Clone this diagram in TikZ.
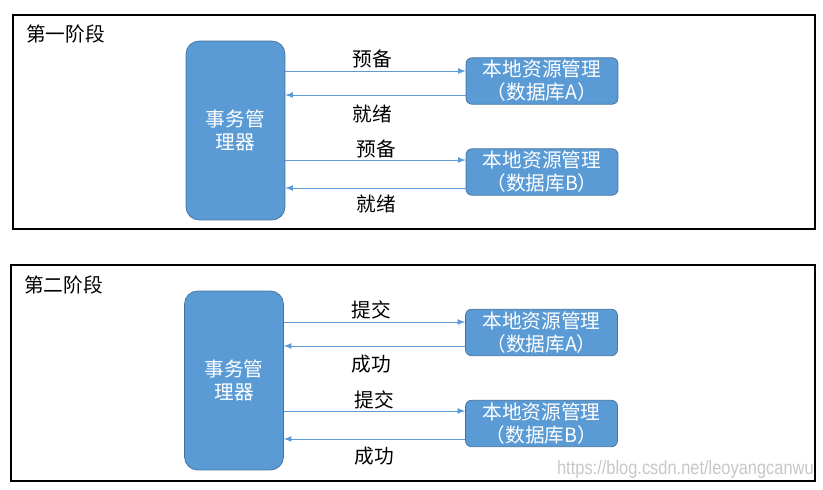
\documentclass[tikz,border=0pt]{standalone}
\usepackage{fontspec}
\setmainfont{Noto Sans CJK SC}
\newfontfamily\markfont{Liberation Sans}
\usetikzlibrary{arrows}
\definecolor{boxblue}{HTML}{5B9BD5}
\definecolor{boxedge}{HTML}{41719C}
\definecolor{msgblue}{HTML}{5B9BD5}

\begin{document}
\begin{tikzpicture}[x=0.02cm, y=-0.02cm,
  font=\fontsize{11.2}{13}\selectfont,
  panel/.style={draw=black, line width=0.6pt},
  tm/.style={draw=boxedge, fill=boxblue, rounded corners=0.26cm, minimum width=1.98cm,
    minimum height=3.58cm, text=white, align=center, inner sep=0pt},
  res/.style={draw=boxedge, fill=boxblue, rounded corners=0.12cm, minimum width=3.04cm,
    minimum height=0.93cm, text=white, align=center, inner sep=0pt},
  msg/.style={draw=msgblue, line width=0.5pt, ->, >=latex}]
\useasboundingbox (0,0) rectangle (823,490);

% phase one
\draw[panel] (13,15) rectangle (815,229);
\node[anchor=west] (t1) at (20,34) {第一阶段};
\node[tm] (tm1) at (235.5,130.5) {事务管\\理器};
\node[res] (ra1) at (542,81) {本地资源管理\\（数据库A）};
\node[res] (rb1) at (542,172) {本地资源管理\\（数据库B）};
\coordinate (a1) at (0,71);
\coordinate (a2) at (0,95);
\coordinate (a3) at (0,160);
\coordinate (a4) at (0,188);
\draw[msg] (tm1.east |- a1) -- (ra1.west |- a1);
\draw[msg] (ra1.west |- a2) -- (tm1.east |- a2);
\draw[msg] (tm1.east |- a3) -- (rb1.west |- a3);
\draw[msg] (rb1.west |- a4) -- (tm1.east |- a4);
\node (m1) at (372,59) {预备};
\node (m2) at (372,114) {就绪};
\node (m3) at (376,149) {预备};
\node (m4) at (376,204) {就绪};

% phase two
\draw[panel] (11,265) rectangle (815,481);
\node[anchor=west] (t2) at (18,285) {第二阶段};
\node[tm] (tm2) at (234,380.5) {事务管\\理器};
\node[res] (ra2) at (541.5,332.5) {本地资源管理\\（数据库A）};
\node[res] (rb2) at (541.5,423.5) {本地资源管理\\（数据库B）};
\coordinate (b1) at (0,322);
\coordinate (b2) at (0,346);
\coordinate (b3) at (0,411);
\coordinate (b4) at (0,439);
\draw[msg] (tm2.east |- b1) -- (ra2.west |- b1);
\draw[msg] (ra2.west |- b2) -- (tm2.east |- b2);
\draw[msg] (tm2.east |- b3) -- (rb2.west |- b3);
\draw[msg] (rb2.west |- b4) -- (tm2.east |- b4);
\node (n1) at (371,310) {提交};
\node (n2) at (371,364) {成功};
\node (n3) at (374,400) {提交};
\node (n4) at (374,456) {成功};

\node[anchor=east, text=black!22, font=\markfont\fontsize{11}{12}\selectfont, xscale=0.85]
  (wm) at (819,470) {https://blog.csdn.net/leoyangcanwu};
\end{tikzpicture}
\end{document}
